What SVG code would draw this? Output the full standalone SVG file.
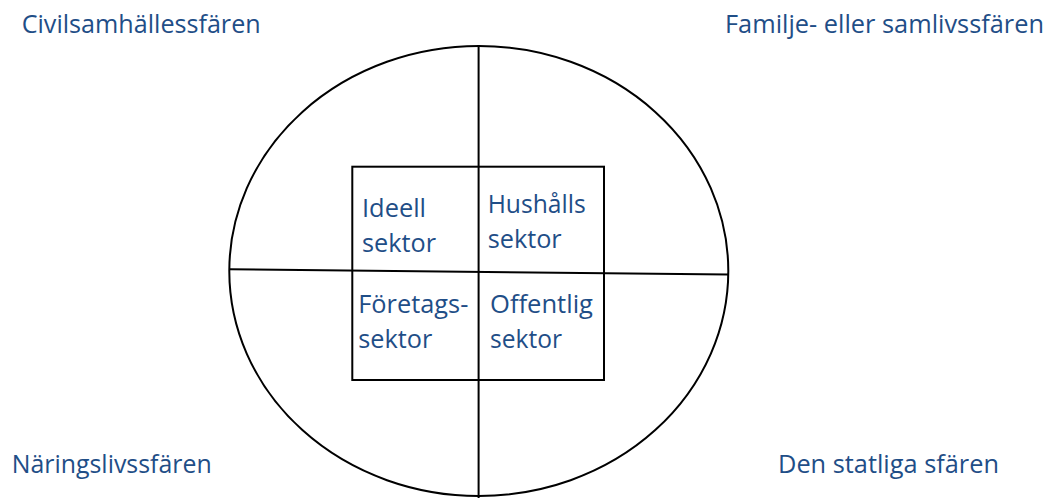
<svg xmlns="http://www.w3.org/2000/svg" width="1049" height="498" viewBox="0 0 1049 498">
  <style>
    .ln { fill: none; stroke: #000; stroke-width: 2; }
    .lbl { font-family: "Open Sans", "Noto Sans", "Liberation Sans", sans-serif; fill: #1F4E87; }
    .outer { font-size: 25px; }
    .inner { font-size: 25px; }
  </style>
  <rect width="1049" height="498" fill="#fff"/>
  <g id="sphere">
    <ellipse class="ln" cx="478.8" cy="271" rx="249.5" ry="225"/>
  </g>
  <g id="sector-box">
    <rect class="ln" x="352.3" y="166.7" width="251.7" height="213.3"/>
  </g>
  <g id="connectors">
    <line class="ln" x1="478.6" y1="46" x2="478.6" y2="498"/>
    <line class="ln" x1="229.5" y1="269.3" x2="728.3" y2="274.4"/>
  </g>
  <g id="civil">
    <text class="lbl outer" x="21.7" y="33.3" textLength="239" lengthAdjust="spacingAndGlyphs">Civilsamhällessfären</text>
  </g>
  <g id="familj">
    <text class="lbl outer" x="725" y="33.3" textLength="319" lengthAdjust="spacingAndGlyphs">Familje- eller samlivssfären</text>
  </g>
  <g id="naring">
    <text class="lbl outer" x="11.7" y="473.3" textLength="200" lengthAdjust="spacingAndGlyphs">Näringslivssfären</text>
  </g>
  <g id="statlig">
    <text class="lbl outer" x="778" y="473.3" textLength="221" lengthAdjust="spacingAndGlyphs">Den statliga sfären</text>
  </g>
  <g id="ideell">
    <text class="lbl inner" x="362" y="217.3" textLength="64" lengthAdjust="spacingAndGlyphs">Ideell</text>
    <text class="lbl inner" x="362" y="251.7" textLength="74" lengthAdjust="spacingAndGlyphs">sektor</text>
  </g>
  <g id="hushall">
    <text class="lbl inner" x="487.7" y="212.7" textLength="98" lengthAdjust="spacingAndGlyphs">Hushålls</text>
    <text class="lbl inner" x="487.7" y="248.3" textLength="74" lengthAdjust="spacingAndGlyphs">sektor</text>
  </g>
  <g id="foretag">
    <text class="lbl inner" x="358.3" y="313.3" textLength="110" lengthAdjust="spacingAndGlyphs">Företags-</text>
    <text class="lbl inner" x="358.3" y="348.3" textLength="74" lengthAdjust="spacingAndGlyphs">sektor</text>
  </g>
  <g id="offentlig">
    <text class="lbl inner" x="490" y="313.3" textLength="103" lengthAdjust="spacingAndGlyphs">Offentlig</text>
    <text class="lbl inner" x="490" y="348.3" textLength="72" lengthAdjust="spacingAndGlyphs">sektor</text>
  </g>
</svg>
